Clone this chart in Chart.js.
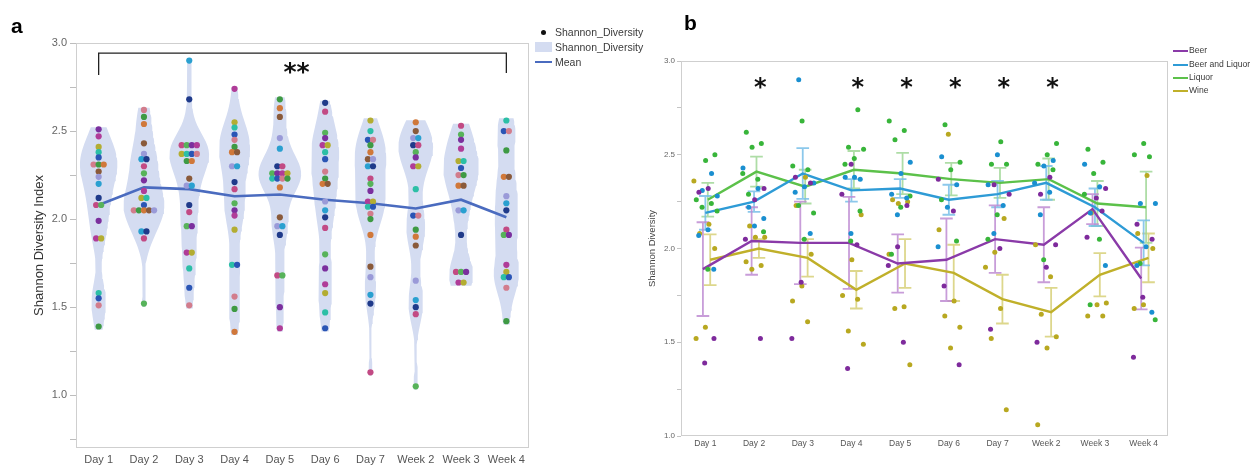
<!DOCTYPE html>
<html><head><meta charset="utf-8">
<script src="https://cdn.jsdelivr.net/npm/chart.js@4.4.0/dist/chart.umd.min.js"></script>
<style>
body{margin:0;width:1255px;height:468px;background:#fff;position:relative;overflow:hidden;font-family:"Liberation Sans",Arial,sans-serif}
canvas{position:absolute;top:0}
#ca{left:0}
#cb{left:640px}
.lab{position:absolute;font:bold 21px "Liberation Sans",Arial,sans-serif;color:#000;line-height:1}
.leg{position:absolute;white-space:nowrap;color:#3a3a3a;line-height:1}
.la{font-size:10.5px}
.lb{font-size:8.6px}
.sw{position:absolute}
</style></head><body>
<canvas id="ca" width="640" height="468"></canvas>
<canvas id="cb" width="615" height="468"></canvas>
<div class="lab" style="left:11px;top:15px">a</div>
<div class="lab" style="left:684px;top:12px">b</div>

<div class="sw" style="left:541px;top:30px;width:5px;height:5px;border-radius:50%;background:#111"></div>
<div class="leg la" style="left:555px;top:27px">Shannon_Diversity</div>
<div class="sw" style="left:535px;top:42px;width:17px;height:10px;background:rgb(212,220,241)"></div>
<div class="leg la" style="left:555px;top:42px">Shannon_Diversity</div>
<div class="sw" style="left:535px;top:61px;width:17px;height:2px;background:#4a6bbf"></div>
<div class="leg la" style="left:555px;top:57px">Mean</div>

<div class="sw" style="left:1173px;top:50px;width:15px;height:2px;background:#8a3aa8"></div>
<div class="leg lb" style="left:1189px;top:46px">Beer</div>
<div class="sw" style="left:1173px;top:64px;width:15px;height:2px;background:#2e9bd6"></div>
<div class="leg lb" style="left:1189px;top:60px">Beer and Liquor</div>
<div class="sw" style="left:1173px;top:77px;width:15px;height:2px;background:#5cc14a"></div>
<div class="leg lb" style="left:1189px;top:73px">Liquor</div>
<div class="sw" style="left:1173px;top:90px;width:15px;height:2px;background:#c0b02a"></div>
<div class="leg lb" style="left:1189px;top:86px">Wine</div>

<script>
// ---------- DATA ----------
const categories = ['Day 1','Day 2','Day 3','Day 4','Day 5','Day 6','Day 7','Week 2','Week 3','Week 4'];

// Panel a: Shannon diversity per sample
const day1  = [2.51,2.47,2.41,2.38,2.35,2.31,2.31,2.31,2.27,2.24,2.20,2.12,2.08,2.08,1.99,1.89,1.89,1.58,1.55,1.51,1.39];
const day2  = [2.62,2.58,2.54,2.43,2.37,2.34,2.34,2.30,2.26,2.22,2.16,2.12,2.12,2.08,2.05,2.05,2.05,2.05,2.05,1.93,1.93,1.89,1.52];
const day3  = [2.90,2.68,2.42,2.42,2.42,2.42,2.37,2.37,2.37,2.37,2.33,2.33,2.23,2.19,2.19,2.08,2.04,1.96,1.96,1.81,1.81,1.72,1.61,1.51];
const day4  = [2.74,2.55,2.52,2.48,2.45,2.41,2.38,2.38,2.30,2.30,2.21,2.17,2.09,2.05,2.02,1.94,1.74,1.74,1.56,1.49,1.36];
const day5  = [2.68,2.63,2.58,2.46,2.40,2.30,2.30,2.26,2.26,2.26,2.26,2.23,2.23,2.23,2.23,2.18,2.01,1.96,1.96,1.91,1.68,1.68,1.50,1.38];
const day6  = [2.66,2.61,2.49,2.46,2.42,2.42,2.38,2.34,2.27,2.23,2.20,2.20,2.10,2.05,2.01,1.95,1.80,1.72,1.63,1.58,1.47,1.38];
const day7  = [2.56,2.50,2.45,2.45,2.42,2.38,2.34,2.34,2.30,2.30,2.23,2.20,2.16,2.10,2.10,2.07,2.07,2.03,2.00,1.91,1.73,1.67,1.57,1.52,1.13];
const week2 = [2.55,2.50,2.46,2.46,2.42,2.42,2.38,2.35,2.30,2.30,2.17,2.02,2.02,1.94,1.90,1.85,1.65,1.54,1.50,1.46,1.05];
const week3 = [2.53,2.48,2.45,2.40,2.33,2.33,2.29,2.25,2.25,2.19,2.19,2.05,2.05,1.91,1.70,1.70,1.70,1.64,1.64];
const week4 = [2.56,2.50,2.50,2.39,2.24,2.24,2.13,2.09,2.05,1.94,1.91,1.91,1.74,1.70,1.67,1.67,1.61,1.42];
const meanShannon = [2.08,2.18,2.17,2.13,2.14,2.11,2.09,2.06,2.11,2.01];
const bracketSpan = ['Day 1','Week 4'];
const bracketText = '**';

// Panel b: groups
const groups = ['Beer','Beer and Liquor','Liquor','Wine'];
const beerMean   = [1.89,2.04,2.03,2.03,1.92,1.94,2.05,2.02,2.21,1.84];
const beerSE     = [0.25,0.18,0.22,0.245,0.155,0.22,0.18,0.20,0.08,0.165];
const blMean     = [2.19,2.25,2.40,2.31,2.32,2.26,2.29,2.35,2.22,2.03];
const blSE       = [0.09,0.055,0.135,0.06,0.05,0.08,0.07,0.09,0.10,0.12];
const liquorMean = [2.26,2.41,2.33,2.42,2.40,2.37,2.35,2.37,2.24,2.22];
const liquorSE   = [0.09,0.08,0.09,0.10,0.11,0.087,0.08,0.11,0.12,0.19];
const wineMean   = [1.94,2.00,1.95,1.78,1.92,1.87,1.73,1.66,1.86,1.95];
const wineSE     = [0.135,0.05,0.10,0.10,0.13,0.15,0.13,0.13,0.115,0.13];

const beerPts = [[2.32,2.30,1.52,1.39],[2.32,2.26,2.05,1.52],[2.38,2.35,1.82,1.52],[2.45,2.29,2.02,1.36],[2.23,2.01,1.91,1.50],
                 [2.37,2.20,1.80,1.38],[2.34,2.29,2.00,1.57],[2.38,2.29,2.02,1.90,1.50],[2.32,2.27,2.06,2.20],[2.13,2.05,1.74,1.42]];
const blPts = [[2.40,2.31,2.28,2.10,2.07,1.89],[2.43,2.32,2.22,2.16,2.12],[2.90,2.35,2.33,2.30,2.08],[2.38,2.38,2.37,2.08],[2.46,2.40,2.29,2.27,2.18],
               [2.49,2.34,2.22,2.01],[2.50,2.34,2.23,2.08],[2.47,2.44,2.35,2.30,2.18],[2.45,2.33,2.19,1.91],[2.24,2.24,2.01,1.91,1.66]];
const liquorPts = [[2.50,2.47,2.26,2.24,2.22,2.20,1.89],[2.62,2.56,2.54,2.40,2.37,2.29,2.09],[2.68,2.44,2.42,2.23,2.19,2.05],[2.74,2.54,2.53,2.48,2.45,2.20,2.04],
                   [2.68,2.63,2.58,2.28,2.22,1.97],[2.66,2.46,2.42,2.26,2.04],[2.57,2.45,2.45,2.18,2.05],[2.56,2.50,2.45,2.42,1.94],[2.53,2.46,2.40,2.29,2.05,1.70],[2.56,2.50,2.49,1.92,1.62]];
const winePts = [[2.36,2.13,2.08,2.00,1.58,1.52],[2.12,2.06,2.06,1.93,1.91,1.89],[2.38,2.23,1.97,1.80,1.72,1.61],[2.18,1.94,1.75,1.73,1.56,1.49],
                 [2.26,2.25,2.24,1.97,1.69,1.68,1.38],[2.61,2.10,1.72,1.64,1.58,1.47],[2.16,1.98,1.90,1.68,1.52,1.14],[2.02,1.85,1.65,1.53,1.47,1.06],
                 [2.19,1.71,1.70,1.64,1.64],[2.39,2.08,2.00,1.70,1.68]];
const sigDays = ['Day 2','Day 4','Day 5','Day 6','Day 7','Week 2'];

// ---------- STYLE ----------
const VIOLIN = 'rgb(212,220,241)';
const MEAN_BLUE = '#4a6bbf';
const dotPalette = ['#7b2f9e','#b03c98','#b3ad32','#2cbfa6','#2a55b5','#d27c8c','#3e9a44','#d0783a','#8a5a3a','#9a9ad8','#2aa0d0','#1f3a8a','#c24a84','#57b35a'];
const groupStyle = [
  {line:'#8a3aa8', dot:'#7e2a9c', err:'rgba(190,140,210,0.85)', off:-0.05},
  {line:'#2e9bd6', dot:'#1a8fd0', err:'rgba(120,190,232,0.85)', off:0.0},
  {line:'#5cc14a', dot:'#38b53a', err:'rgba(160,215,150,0.85)', off:0.05},
  {line:'#c0b02a', dot:'#b8a820', err:'rgba(215,208,120,0.85)', off:0.10}
];

// ---------- PANEL A ----------
const shannonByDay = [day1,day2,day3,day4,day5,day6,day7,week2,week3,week4];
function density(vals, y, h){let s=0;for(const v of vals){const z=(y-v)/h;s+=Math.exp(-0.5*z*z);}return s/(vals.length*h*Math.sqrt(2*Math.PI));}
const BW = 0.105, N = 60;
let maxD = 0;
shannonByDay.forEach(vals=>{const lo=Math.min(...vals),hi=Math.max(...vals);for(let s=0;s<=N;s++){maxD=Math.max(maxD,density(vals,lo+(hi-lo)*s/N,BW));}});
const K = 0.47/maxD;
function violin(vals,i){
  const lo=Math.min(...vals)-0.018, hi=Math.max(...vals)+0.012;
  const r=[],l=[];
  for(let s=0;s<=N;s++){const y=lo+(hi-lo)*s/N;const w=density(vals,y,BW)*K;r.push({x:i+w,y});l.push({x:i-w,y});}
  return r.concat(l.reverse());
}
const dotData=[], dotColors=[];
shannonByDay.forEach((vals,i)=>{
  const groupsMap={};
  vals.forEach(v=>{const k=v.toFixed(2);(groupsMap[k]=groupsMap[k]||[]).push(v);});
  let c=0;
  Object.values(groupsMap).forEach(g=>{
    g.forEach((v,j)=>{dotData.push({x:i+(j-(g.length-1)/2)*0.112,y:v});dotColors.push(dotPalette[(i*5+c)%dotPalette.length]);c++;});
  });
});

function ticksFrom(a,b){const t=[];for(let v=a;v<=b+1e-9;v+=0.25)t.push({value:+v.toFixed(2)});return t;}
const frame = {id:'frame',beforeDatasetsDraw(c){const {ctx,chartArea:a}=c;ctx.save();ctx.strokeStyle='#cfcfcf';ctx.lineWidth=1;ctx.strokeRect(a.left+0.5,a.top+0.5,a.right-a.left-1,a.bottom-a.top-1);ctx.restore();}};

const bracketPlugin = {id:'bracket',afterDatasetsDraw(c){
  const {ctx}=c, xs=c.scales.x, ys=c.scales.y;
  const x0=xs.getPixelForValue(categories.indexOf(bracketSpan[0])), x1=xs.getPixelForValue(categories.indexOf(bracketSpan[1]));
  const yt=ys.getPixelForValue(2.943), yl=ys.getPixelForValue(2.818), yr=ys.getPixelForValue(2.83);
  ctx.save();ctx.strokeStyle='#222';ctx.lineWidth=1.3;ctx.beginPath();
  ctx.moveTo(x0,yl);ctx.lineTo(x0,yt);ctx.lineTo(x1,yt);ctx.lineTo(x1,yr);ctx.stroke();
  ctx.fillStyle='#111';ctx.font='bold 25px "DejaVu Sans"';ctx.textAlign='center';ctx.textBaseline='middle';
  ctx.fillText(bracketText,(x0+x1)/2-6,ys.getPixelForValue(2.858)+5);
  ctx.restore();
}};

new Chart(document.getElementById('ca'),{
  type:'scatter',
  data:{datasets:[
    {type:'scatter',data:dotData,pointRadius:3.1,pointBackgroundColor:dotColors,pointBorderWidth:0,order:1},
    {type:'line',data:meanShannon.map((m,i)=>({x:i,y:m})),borderColor:MEAN_BLUE,borderWidth:2.6,pointRadius:0,fill:false,order:2},
    ...shannonByDay.map((vals,i)=>({type:'line',data:violin(vals,i),backgroundColor:VIOLIN,borderWidth:0,borderColor:'rgba(0,0,0,0)',pointRadius:0,fill:'shape',order:5}))
  ]},
  options:{
    responsive:false,devicePixelRatio:1,animation:false,events:[],
    layout:{padding:{left:0,right:111,top:43,bottom:0}},
    plugins:{legend:{display:false},tooltip:{enabled:false}},
    scales:{
      x:{type:'linear',min:-0.5,max:9.5,
        afterBuildTicks:s=>{s.ticks=categories.map((_,i)=>({value:i}));},
        afterFit:s=>{s.height=20;},
        grid:{display:false,drawTicks:false},border:{display:false},
        ticks:{autoSkip:false,maxRotation:0,padding:5,color:'#555',font:{family:'"Liberation Sans", Arial',size:11},callback:v=>categories[Math.round(v)]}},
      y:{type:'linear',min:0.7,max:3.0,
        afterBuildTicks:s=>{s.ticks=ticksFrom(0.75,3.0);},
        afterFit:s=>{s.width=76;},
        grid:{drawOnChartArea:false,drawTicks:true,tickLength:6,color:'#bdbdbd'},border:{display:false},
        ticks:{padding:3,color:'#666',font:{family:'"Liberation Sans", Arial',size:11},callback:v=>Math.abs(v*2-Math.round(v*2))<1e-6?v.toFixed(1):''},
        title:{display:true,text:'Shannon Diversity Index',color:'#333',font:{family:'"Liberation Sans", Arial',size:13},padding:{top:32,bottom:0}}}
    }
  },
  plugins:[frame,bracketPlugin]
});

// ---------- PANEL B ----------
const bMeans=[beerMean,blMean,liquorMean,wineMean], bSE=[beerSE,blSE,liquorSE,wineSE], bPts=[beerPts,blPts,liquorPts,winePts];
const CAP=0.13;
const dsB=[];
bMeans.forEach((means,g)=>{
  const st=groupStyle[g], se=bSE[g];
  const err=[];
  means.forEach((m,i)=>{const x=i+st.off, lo=m-se[i], hi=m+se[i];
    err.push({x,y:lo},{x,y:hi},{x,y:null},{x:x-CAP,y:hi},{x:x+CAP,y:hi},{x,y:null},{x:x-CAP,y:lo},{x:x+CAP,y:lo},{x,y:null});});
  dsB.push({type:'line',data:err,borderColor:st.err,borderWidth:1.8,pointRadius:0,fill:false,spanGaps:false,order:3+g*0.01});
  dsB.push({type:'line',data:means.map((m,i)=>({x:i+st.off,y:m})),borderColor:st.line,borderWidth:2.4,pointRadius:0,fill:false,order:2});
  const pts=[];
  bPts[g].forEach((arr,i)=>arr.forEach((v,k)=>{const j=(((k+1)*0.618034+g*0.137+i*0.29)%1-0.5)*0.5;pts.push({x:i+j,y:v});}));
  dsB.push({type:'scatter',data:pts,pointRadius:2.5,pointBackgroundColor:st.dot,pointBorderWidth:0,order:1});
});

const starPlugin={id:'stars',afterDatasetsDraw(c){
  const {ctx}=c, xs=c.scales.x, ys=c.scales.y;
  ctx.save();ctx.fillStyle='#111';ctx.font='bold 24px "DejaVu Sans"';ctx.textAlign='center';ctx.textBaseline='middle';
  sigDays.forEach(d=>{const i=categories.indexOf(d);ctx.fillText('*',xs.getPixelForValue(i+0.13),ys.getPixelForValue(2.883)+6);});
  ctx.restore();
}};

new Chart(document.getElementById('cb'),{
  type:'scatter',
  data:{datasets:dsB},
  options:{
    responsive:false,devicePixelRatio:1,animation:false,events:[],
    layout:{padding:{left:0,right:87,top:61,bottom:0}},
    plugins:{legend:{display:false},tooltip:{enabled:false}},
    scales:{
      x:{type:'linear',min:-0.5,max:9.5,
        afterBuildTicks:s=>{s.ticks=categories.map((_,i)=>({value:i}));},
        afterFit:s=>{s.height=32;},
        grid:{display:false,drawTicks:false},border:{display:false},
        ticks:{autoSkip:false,maxRotation:0,padding:3,color:'#555',font:{family:'"Liberation Sans", Arial',size:8.5},callback:v=>categories[Math.round(v)]}},
      y:{type:'linear',min:1.0,max:3.0,
        afterBuildTicks:s=>{s.ticks=ticksFrom(1.0,3.0);},
        afterFit:s=>{s.width=41;},
        grid:{drawOnChartArea:false,drawTicks:true,tickLength:4,color:'#c4c4c4'},border:{display:false},
        ticks:{padding:2,color:'#666',font:{family:'"Liberation Sans", Arial',size:8},callback:v=>Math.abs(v*2-Math.round(v*2))<1e-6?v.toFixed(1):''},
        title:{display:true,text:'Shannon Diversity',color:'#444',font:{family:'"Liberation Sans", Arial',size:9.5},padding:{top:7,bottom:0}}}
    }
  },
  plugins:[frame,starPlugin]
});
</script>
</body></html>
